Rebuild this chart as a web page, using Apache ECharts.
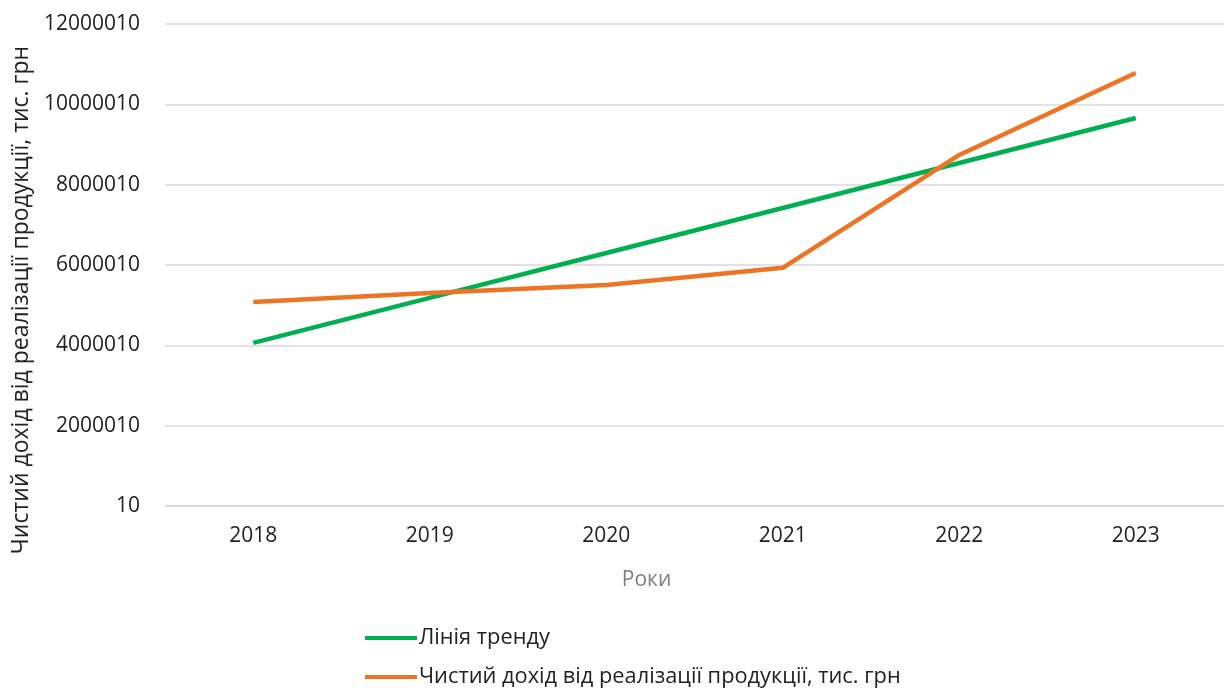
<!DOCTYPE html>
<html lang="uk" style="height: 100%">

<head>
  <meta charset="utf-8">
</head>

<body style="height: 100%; margin: 0">
  <div id="container" style="height: 100%"></div>

  <script type="text/javascript" src="https://cdn.jsdelivr.net/npm/echarts@6/dist/echarts.min.js"></script>

  <script type="text/javascript">
    var dom = document.getElementById('container');
    var myChart = echarts.init(dom, null, { renderer: 'canvas' });

    // дані
    var years = ['2018', '2019', '2020', '2021', '2022', '2023'];
    var revenue = [5080000, 5300000, 5500000, 5930000, 8740000, 10780000];
    var trend = [4060000, 5180000, 6300000, 7420000, 8540000, 9660000];
    var seriesNames = ['Лінія тренду', 'Чистий дохід від реалізації продукції, тис. грн'];

    var FONT = 'Open Sans';

    var option = {
      textStyle: { fontFamily: FONT },
      grid: { left: 165, right: 0, top: 24, bottom: 184 },
      legend: {
        orient: 'vertical',
        left: 360,
        top: 622,
        height: 120,
        itemWidth: 52,
        itemHeight: 4,
        itemGap: 17,
        icon: 'rect',
        textStyle: { fontSize: 21.8, color: '#222', padding: [0, 0, 0, -3] },
        data: seriesNames
      },
      xAxis: {
        type: 'category',
        data: years,
        name: 'Роки',
        nameLocation: 'middle',
        nameGap: 64,
        nameTextStyle: { fontSize: 21, color: '#7f7f7f', padding: [0, 96, 0, 0] },
        axisLine: { lineStyle: { color: '#d9d9d9', width: 1.5 } },
        axisTick: { show: false },
        axisLabel: { fontSize: 21, color: '#222', margin: 20 }
      },
      yAxis: {
        type: 'value',
        min: 10,
        max: 12000010,
        interval: 2000000,
        name: seriesNames[1],
        nameLocation: 'middle',
        nameGap: 131,
        nameTextStyle: { fontSize: 23, color: '#222', padding: [0, 70, 0, 0] },
        axisLine: { show: false },
        axisTick: { show: false },
        axisLabel: {
          fontSize: 21,
          color: '#222',
          margin: 25,
          formatter: function (v) { return String(v); }
        },
        splitLine: { lineStyle: { color: '#d9d9d9', width: 1.5 } }
      },
      series: [
        {
          name: seriesNames[0],
          type: 'line',
          data: trend,
          symbol: 'none',
          lineStyle: { color: '#00b050', width: 4.5 },
          itemStyle: { color: '#00b050' }
        },
        {
          name: seriesNames[1],
          type: 'line',
          data: revenue,
          symbol: 'none',
          lineStyle: { color: '#ed7424', width: 4.5 },
          itemStyle: { color: '#ed7424' }
        }
      ]
    };

    myChart.setOption(option);
    window.addEventListener('resize', myChart.resize);
  </script>
</body>

</html>
